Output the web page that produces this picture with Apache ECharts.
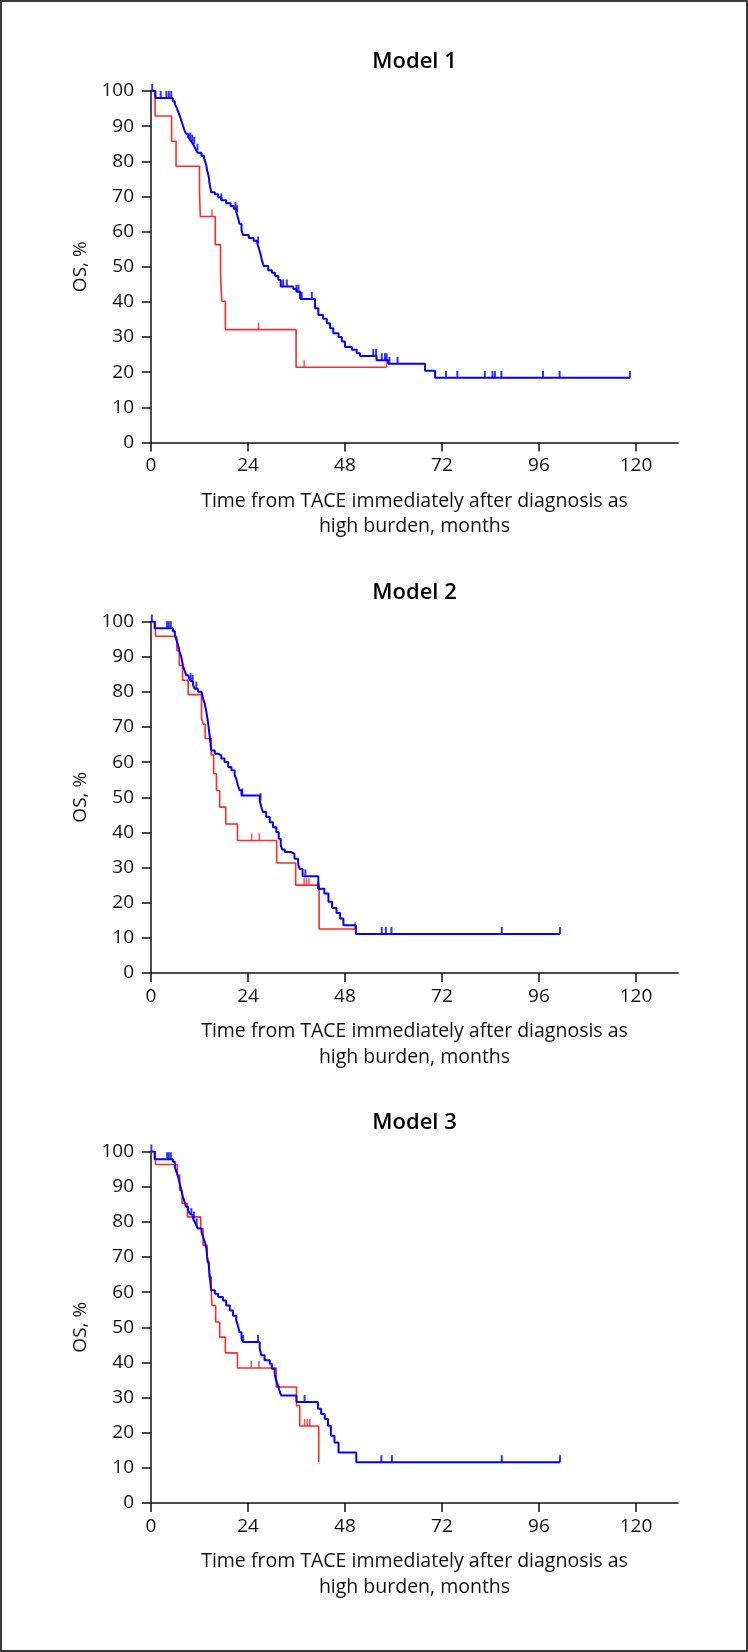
<!DOCTYPE html>
<html>
<head>
<meta charset="utf-8">
<script src="https://cdn.jsdelivr.net/npm/echarts@6/dist/echarts.min.js"></script>
<style>
html,body{margin:0;padding:0;background:#fff;}
#c{width:748px;height:1652px;}
</style>
</head>
<body>
<div id="c"></div>
<script>
// ---------- data ----------
const titles = ['Model 1', 'Model 2', 'Model 3'];
const xTicks = [0, 24, 48, 72, 96, 120];
const yTicks = [0, 10, 20, 30, 40, 50, 60, 70, 80, 90, 100];
const xTitle = 'Time from TACE immediately after diagnosis as\nhigh burden, months';
const yTitle = 'OS, %';

// Model 1
const m1Red = [[0,100],[1.0,92.9],[5.1,85.7],[6.2,78.6],[12.0,71.4],[12.2,64.3],[15.9,56.3],[17.2,48.2],[17.5,40.2],[18.4,32.1],[35.9,21.4]];
const m1RedCensor = [15.1, 26.6, 37.9, 58.3];
const m1Blue = [[0,100],[1.1,98.0],[5.4,97.0],[5.9,96.2],[6.3,95.4],[6.7,94.2],[7.1,93.0],[7.5,91.6],[7.9,90.2],[8.3,88.8],[8.7,87.8],[9.2,86.8],[9.6,86.2],[10.0,85.6],[10.4,84.9],[10.8,84.0],[11.2,83.0],[11.6,82.4],[12.5,81.6],[13.1,80.9],[13.4,80.0],[13.7,78.8],[13.9,77.3],[14.3,75.5],[14.5,73.6],[14.9,71.2],[15.8,70.6],[16.6,69.8],[17.4,68.9],[18.6,68.1],[19.7,67.3],[20.5,66.4],[21.1,65.5],[21.5,64.1],[21.9,62.2],[22.4,60.3],[22.8,59.0],[24.2,58.2],[25.4,57.4],[26.3,56.6],[26.7,55.2],[27.1,53.6],[27.5,51.6],[27.9,50.2],[29.0,49.0],[29.9,48.3],[30.7,47.4],[31.5,46.2],[32.1,44.4],[35.2,43.7],[36.0,42.9],[36.9,40.8],[40.6,38.2],[41.4,36.3],[42.6,35.2],[43.5,33.9],[44.3,32.5],[45.1,31.1],[46.4,30.0],[47.2,28.7],[48.0,27.2],[49.7,26.4],[50.9,25.4],[51.7,24.6],[55.8,23.4],[58.7,22.4],[67.8,20.4],[70.3,18.4]];
const m1BlueCensor = [0.3, 2.4, 3.8, 4.4, 5.0, 9.7, 10.2, 10.7, 11.5, 17.4, 20.9, 21.3, 26.5, 32.7, 33.6, 36.0, 36.5, 37.3, 39.8, 55.0, 55.7, 57.1, 57.9, 58.3, 59.0, 61.0, 73.0, 75.8, 82.6, 84.5, 85.1, 86.7, 97.0, 101.1, 118.5];

// Model 2
const m2Red = [[0,100],[1.1,95.8],[6.4,91.7],[7.0,87.5],[7.8,83.3],[9.2,79.2],[12.5,72.5],[12.9,70.8],[13.4,66.7],[14.9,62.0],[15.5,56.7],[16.2,51.9],[17.0,47.2],[18.5,42.4],[21.4,37.7],[31.1,31.3],[35.8,25.0],[41.6,12.5]];
const m2RedCensor = [24.9, 26.8, 37.9, 38.5, 39.1, 50.5];
const m2Blue = [[0,100],[0.9,98.1],[5.4,97.2],[5.9,96.1],[6.3,94.7],[6.7,93.3],[7.1,91.3],[7.5,89.9],[7.9,87.5],[8.3,86.1],[8.7,84.7],[9.2,84.2],[9.6,83.3],[10.0,82.8],[10.4,81.9],[10.8,80.9],[11.6,80.0],[12.5,79.5],[12.9,78.0],[13.3,76.6],[13.7,74.3],[14.1,71.4],[14.5,67.6],[14.9,63.3],[15.8,62.4],[16.6,61.9],[17.4,61.0],[18.2,60.0],[19.1,58.6],[19.9,57.7],[20.7,56.2],[21.1,55.3],[21.5,53.4],[21.9,52.0],[22.4,50.5],[26.9,49.1],[27.3,47.2],[27.7,45.8],[28.5,44.4],[29.4,42.9],[30.2,41.5],[31.0,40.1],[31.6,38.2],[32.1,36.3],[32.5,35.1],[33.1,34.4],[34.7,33.9],[35.5,32.5],[36.4,31.1],[36.8,29.6],[37.5,27.5],[41.4,24.0],[42.9,22.6],[43.9,20.3],[44.8,18.5],[45.9,17.1],[46.8,15.5],[47.6,13.6],[50.7,11.1]];
const m2BlueCensor = [0.2, 4.0, 4.4, 4.9, 9.8, 10.3, 11.2, 22.6, 27.1, 38.2, 41.4, 57.1, 58.1, 59.5, 86.8, 101.2];

// Model 3
const m3Red = [[0,100],[1.1,96.3],[6.5,93.3],[7.1,89.0],[7.7,85.2],[9.0,81.4],[12.3,78.1],[12.9,73.3],[13.9,68.6],[14.4,64.3],[14.9,60.5],[15.1,56.2],[16.0,51.5],[17.0,47.2],[18.4,42.7],[21.4,38.4],[31.0,33.0],[36.0,27.7],[36.8,21.9],[41.5,11.6]];
const m3RedCensor = [24.8, 26.7, 38.0, 38.7, 39.3];
const m3Blue = [[0,100],[0.9,97.8],[5.4,97.1],[5.9,95.6],[6.3,94.2],[6.7,92.8],[7.1,90.9],[7.5,89.0],[7.9,87.1],[8.3,85.7],[8.7,84.2],[9.2,83.3],[9.6,82.3],[10.0,81.9],[10.4,80.9],[10.8,80.0],[11.2,79.0],[11.6,78.1],[12.5,77.1],[12.9,75.7],[13.3,74.3],[13.7,72.4],[13.9,70.0],[14.3,67.6],[14.5,64.8],[14.9,60.5],[15.8,59.5],[16.6,58.6],[17.8,57.6],[18.6,56.2],[19.5,54.8],[20.3,53.3],[21.1,51.9],[21.5,50.5],[21.9,48.6],[22.4,46.7],[22.8,45.8],[26.9,43.9],[27.3,42.0],[28.1,40.6],[29.4,39.6],[29.9,38.2],[30.6,36.7],[31.0,34.8],[31.4,33.4],[31.8,31.9],[32.2,30.6],[36.0,28.7],[41.3,26.8],[42.1,25.3],[43.0,23.9],[43.8,22.0],[44.5,19.1],[45.4,17.2],[46.4,14.4],[50.8,11.6]];
const m3BlueCensor = [0.1, 4.0, 4.4, 4.9, 10.0, 10.6, 11.3, 22.8, 26.5, 38.0, 57.0, 59.6, 86.8, 101.2];

// ---------- layout ----------
const FONT = '"Open Sans", "Noto Sans", sans-serif';
const RED = '#ff2a2a';
const BLUE = '#0000ff';
const gridTops = [91, 621.5, 1151.5];
const gridLeft = 151, gridWidth = 527, gridHeight = 351.5;
const xMax = 130.4;

const panels = [
  {red: m1Red, redC: m1RedCensor, blue: m1Blue, blueC: m1BlueCensor},
  {red: m2Red, redC: m2RedCensor, blue: m2Blue, blueC: m2BlueCensor},
  {red: m3Red, redC: m3RedCensor, blue: m3Blue, blueC: m3BlueCensor}
];

function stepAt(curve, t) {
  let v = curve[0][1];
  for (const p of curve) { if (p[0] <= t) v = p[1]; else break; }
  return v;
}
function lineData(curve, censors) {
  const d = curve.slice();
  const last = d[d.length - 1];
  const tEnd = Math.max.apply(null, censors);
  if (tEnd > last[0]) d.push([tEnd, last[1]]);
  return d;
}

const grid = [], xAxis = [], yAxis = [], series = [], graphic = [];
panels.forEach((p, i) => {
  grid.push({left: gridLeft, top: gridTops[i], width: gridWidth, height: gridHeight});
  xAxis.push({
    gridIndex: i, type: 'value', min: 0, max: xMax, interval: 24,
    axisLine: {show: true, onZero: false, lineStyle: {color: '#111', width: 1.5}},
    axisTick: {show: true, length: 9, customValues: xTicks, lineStyle: {color: '#111', width: 1.5}},
    axisLabel: {customValues: xTicks, fontSize: 19, color: '#111', margin: 14, fontFamily: FONT},
    splitLine: {show: false},
    name: xTitle, nameLocation: 'middle', nameGap: 46,
    nameTextStyle: {fontSize: 19.5, color: '#111', fontFamily: FONT, lineHeight: 25.6, align: 'center'}
  });
  yAxis.push({
    gridIndex: i, type: 'value', min: 0, max: 100, interval: 10,
    axisLine: {show: true, lineStyle: {color: '#111', width: 1.5}},
    axisTick: {show: true, length: 9, customValues: yTicks, lineStyle: {color: '#111', width: 1.5}},
    axisLabel: {customValues: yTicks, fontSize: 19, color: '#111', margin: 17, fontFamily: FONT},
    splitLine: {show: false},
    name: yTitle, nameLocation: 'middle', nameGap: 60,
    nameTextStyle: {fontSize: 19, color: '#111', fontFamily: FONT}
  });
  series.push({
    type: 'line', xAxisIndex: i, yAxisIndex: i, step: 'end', showSymbol: false, silent: true,
    data: lineData(p.red, p.redC), lineStyle: {color: RED, width: 1.6}, z: 2
  });
  series.push({
    type: 'line', xAxisIndex: i, yAxisIndex: i, step: 'end', showSymbol: false, silent: true,
    data: lineData(p.blue, p.blueC), lineStyle: {color: BLUE, width: 2}, z: 3
  });
  series.push({
    type: 'scatter', xAxisIndex: i, yAxisIndex: i, symbol: 'rect', symbolSize: [1.6, 7],
    symbolOffset: [0, -3.5], silent: true, itemStyle: {color: RED},
    data: p.redC.map(t => [t, stepAt(p.red, t)]), z: 2
  });
  series.push({
    type: 'scatter', xAxisIndex: i, yAxisIndex: i, symbol: 'rect', symbolSize: [2, 7],
    symbolOffset: [0, -3.5], silent: true, itemStyle: {color: BLUE},
    data: p.blueC.map(t => [t, stepAt(p.blue, t)]), z: 3
  });
  graphic.push({
    type: 'text', x: gridLeft + 263.5, y: gridTops[i] - 29,
    style: {text: titles[i], fontSize: 22, fontWeight: 600, fontFamily: FONT, fill: '#000',
            align: 'center', verticalAlign: 'middle', textAlign: 'center', textVerticalAlign: 'middle'}
  });
});
graphic.push({
  type: 'rect', shape: {x: 1, y: 1, width: 746, height: 1650},
  style: {fill: 'none', stroke: '#3a3a3a', lineWidth: 2}, silent: true
});

const chart = echarts.init(document.getElementById('c'));
chart.setOption({
  animation: false,
  backgroundColor: '#fff',
  grid, xAxis, yAxis, series, graphic
});
</script>
</body>
</html>
